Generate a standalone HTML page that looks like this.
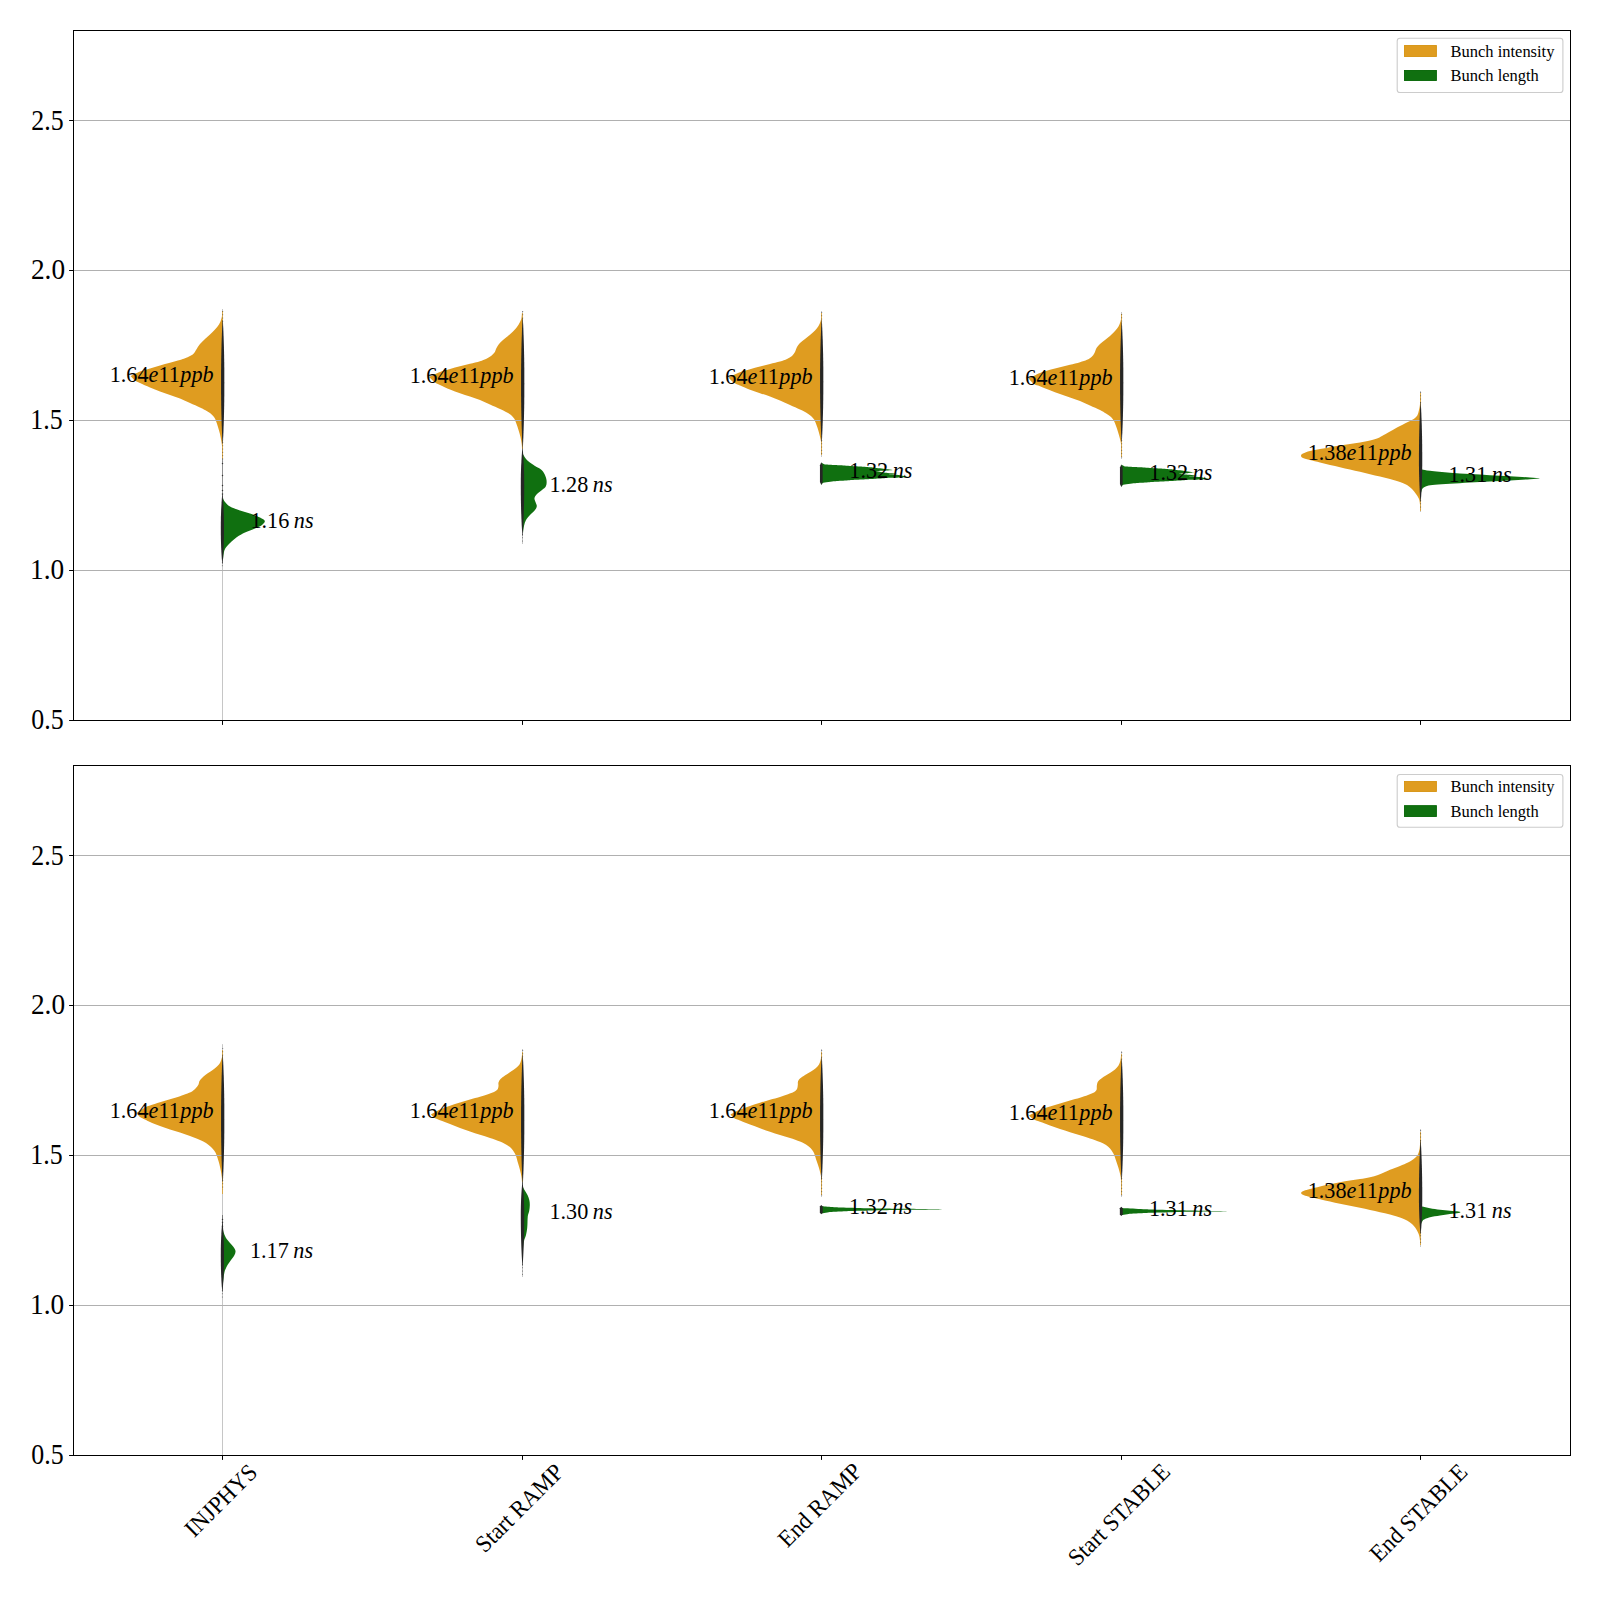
<!DOCTYPE html>
<html><head><meta charset="utf-8"><title>Bunch intensity and bunch length</title>
<style>html,body{margin:0;padding:0;background:#fff;}body{width:1600px;height:1600px;position:relative;overflow:hidden;font-family:"Liberation Serif",serif;}</style></head>
<body>
<svg width="1600" height="1600" viewBox="0 0 1600 1600" style="position:absolute;left:0;top:0;font-family:'Liberation Serif',serif">
<rect x="0" y="0" width="1600" height="1600" fill="#ffffff"/>
<path d="M222.60,310.00C222.53,310.83 222.47,313.33 222.20,315.00C221.93,316.67 221.53,318.42 221.00,320.00C220.47,321.58 220.00,322.92 219.00,324.50C218.00,326.08 216.50,327.83 215.00,329.50C213.50,331.17 211.67,332.92 210.00,334.50C208.33,336.08 206.67,337.42 205.00,339.00C203.33,340.58 201.50,342.17 200.00,344.00C198.50,345.83 197.08,348.37 196.00,350.00C194.92,351.63 194.50,352.80 193.50,353.80C192.50,354.80 191.42,355.25 190.00,356.00C188.58,356.75 186.67,357.63 185.00,358.30C183.33,358.97 182.50,359.25 180.00,360.00C177.50,360.75 173.33,361.88 170.00,362.80C166.67,363.72 163.33,364.55 160.00,365.50C156.67,366.45 153.33,367.50 150.00,368.50C146.67,369.50 143.25,370.25 140.00,371.50C136.75,372.75 132.08,375.25 130.50,376.00C131.25,376.75 133.42,379.33 135.00,380.50C136.58,381.67 137.50,381.83 140.00,383.00C142.50,384.17 146.67,386.08 150.00,387.50C153.33,388.92 156.67,390.25 160.00,391.50C163.33,392.75 166.67,393.83 170.00,395.00C173.33,396.17 176.67,397.17 180.00,398.50C183.33,399.83 186.67,401.50 190.00,403.00C193.33,404.50 197.50,406.33 200.00,407.50C202.50,408.67 203.33,409.08 205.00,410.00C206.67,410.92 208.50,411.83 210.00,413.00C211.50,414.17 213.00,415.67 214.00,417.00C215.00,418.33 215.33,419.33 216.00,421.00C216.67,422.67 217.33,424.83 218.00,427.00C218.67,429.17 219.42,431.50 220.00,434.00C220.58,436.50 221.10,439.33 221.50,442.00C221.90,444.67 222.22,447.00 222.40,450.00C222.58,453.00 222.57,458.33 222.60,460.00Z" fill="#df9c20"/>
<path d="M222.50,494.00C222.58,494.67 222.58,496.67 223.00,498.00C223.42,499.33 223.83,500.58 225.00,502.00C226.17,503.42 227.50,505.08 230.00,506.50C232.50,507.92 236.67,509.33 240.00,510.50C243.33,511.67 246.67,512.33 250.00,513.50C253.33,514.67 257.53,516.25 260.00,517.50C262.47,518.75 264.47,519.75 264.80,521.00C265.13,522.25 263.63,523.75 262.00,525.00C260.37,526.25 257.83,527.25 255.00,528.50C252.17,529.75 248.00,531.08 245.00,532.50C242.00,533.92 239.50,535.25 237.00,537.00C234.50,538.75 232.00,541.00 230.00,543.00C228.00,545.00 226.08,547.00 225.00,549.00C223.92,551.00 223.87,552.83 223.50,555.00C223.13,557.17 222.97,560.33 222.80,562.00C222.63,563.67 222.55,564.50 222.50,565.00Z" fill="#107010"/>
<path d="M522.10,311.00C522.00,312.17 521.85,316.17 521.50,318.00C521.15,319.83 520.75,320.50 520.00,322.00C519.25,323.50 518.17,325.42 517.00,327.00C515.83,328.58 514.50,330.00 513.00,331.50C511.50,333.00 509.67,334.58 508.00,336.00C506.33,337.42 504.50,338.67 503.00,340.00C501.50,341.33 500.08,342.67 499.00,344.00C497.92,345.33 497.25,346.58 496.50,348.00C495.75,349.42 495.42,351.17 494.50,352.50C493.58,353.83 492.42,354.92 491.00,356.00C489.58,357.08 487.83,358.13 486.00,359.00C484.17,359.87 482.67,360.40 480.00,361.20C477.33,362.00 473.33,362.97 470.00,363.80C466.67,364.63 463.33,365.33 460.00,366.20C456.67,367.07 453.33,368.03 450.00,369.00C446.67,369.97 443.50,370.67 440.00,372.00C436.50,373.33 430.83,376.17 429.00,377.00C430.00,377.92 433.17,381.17 435.00,382.50C436.83,383.83 437.50,383.83 440.00,385.00C442.50,386.17 446.67,388.13 450.00,389.50C453.33,390.87 456.67,392.03 460.00,393.20C463.33,394.37 466.67,395.37 470.00,396.50C473.33,397.63 476.67,398.67 480.00,400.00C483.33,401.33 486.67,403.00 490.00,404.50C493.33,406.00 497.33,407.75 500.00,409.00C502.67,410.25 504.17,411.00 506.00,412.00C507.83,413.00 509.58,413.83 511.00,415.00C512.42,416.17 513.58,417.50 514.50,419.00C515.42,420.50 515.83,422.17 516.50,424.00C517.17,425.83 517.83,427.83 518.50,430.00C519.17,432.17 519.97,434.67 520.50,437.00C521.03,439.33 521.43,441.83 521.70,444.00C521.97,446.17 522.03,449.00 522.10,450.00Z" fill="#df9c20"/>
<path d="M522.10,452.00C522.42,452.67 523.02,454.50 524.00,456.00C524.98,457.50 526.17,459.33 528.00,461.00C529.83,462.67 532.83,464.58 535.00,466.00C537.17,467.42 539.42,468.17 541.00,469.50C542.58,470.83 543.58,472.25 544.50,474.00C545.42,475.75 546.25,478.00 546.50,480.00C546.75,482.00 546.75,484.33 546.00,486.00C545.25,487.67 543.50,488.67 542.00,490.00C540.50,491.33 538.25,492.67 537.00,494.00C535.75,495.33 534.75,496.67 534.50,498.00C534.25,499.33 535.12,500.67 535.50,502.00C535.88,503.33 536.88,504.67 536.80,506.00C536.72,507.33 536.13,508.50 535.00,510.00C533.87,511.50 531.50,513.33 530.00,515.00C528.50,516.67 527.00,518.17 526.00,520.00C525.00,521.83 524.50,523.83 524.00,526.00C523.50,528.17 523.32,530.00 523.00,533.00C522.68,536.00 522.25,542.17 522.10,544.00Z" fill="#107010"/>
<path d="M821.60,312.00C821.57,312.83 821.58,315.42 821.40,317.00C821.22,318.58 820.98,320.00 820.50,321.50C820.02,323.00 819.42,324.50 818.50,326.00C817.58,327.50 816.42,329.00 815.00,330.50C813.58,332.00 811.67,333.58 810.00,335.00C808.33,336.42 806.67,337.67 805.00,339.00C803.33,340.33 801.33,341.67 800.00,343.00C798.67,344.33 797.83,345.50 797.00,347.00C796.17,348.50 795.83,350.50 795.00,352.00C794.17,353.50 793.33,354.83 792.00,356.00C790.67,357.17 789.00,358.08 787.00,359.00C785.00,359.92 782.83,360.67 780.00,361.50C777.17,362.33 773.33,363.17 770.00,364.00C766.67,364.83 763.33,365.63 760.00,366.50C756.67,367.37 753.33,368.25 750.00,369.20C746.67,370.15 743.58,370.82 740.00,372.20C736.42,373.58 730.42,376.62 728.50,377.50C729.42,378.38 732.08,381.47 734.00,382.80C735.92,384.13 737.33,384.33 740.00,385.50C742.67,386.67 746.67,388.52 750.00,389.80C753.33,391.08 756.67,392.08 760.00,393.20C763.33,394.32 766.67,395.28 770.00,396.50C773.33,397.72 776.67,399.08 780.00,400.50C783.33,401.92 786.67,403.50 790.00,405.00C793.33,406.50 797.33,408.25 800.00,409.50C802.67,410.75 804.17,411.42 806.00,412.50C807.83,413.58 809.58,414.75 811.00,416.00C812.42,417.25 813.58,418.50 814.50,420.00C815.42,421.50 815.83,423.17 816.50,425.00C817.17,426.83 817.87,428.83 818.50,431.00C819.13,433.17 819.83,435.83 820.30,438.00C820.77,440.17 821.08,441.00 821.30,444.00C821.52,447.00 821.55,454.00 821.60,456.00Z" fill="#df9c20"/>
<path d="M1121.10,313.00C1121.13,313.67 1121.40,315.58 1121.30,317.00C1121.20,318.42 1120.97,319.92 1120.50,321.50C1120.03,323.08 1119.42,324.92 1118.50,326.50C1117.58,328.08 1116.42,329.42 1115.00,331.00C1113.58,332.58 1111.67,334.50 1110.00,336.00C1108.33,337.50 1106.67,338.67 1105.00,340.00C1103.33,341.33 1101.42,342.67 1100.00,344.00C1098.58,345.33 1097.42,346.50 1096.50,348.00C1095.58,349.50 1095.33,351.50 1094.50,353.00C1093.67,354.50 1092.75,355.87 1091.50,357.00C1090.25,358.13 1088.92,358.93 1087.00,359.80C1085.08,360.67 1082.83,361.37 1080.00,362.20C1077.17,363.03 1073.33,363.97 1070.00,364.80C1066.67,365.63 1063.33,366.37 1060.00,367.20C1056.67,368.03 1053.33,368.83 1050.00,369.80C1046.67,370.77 1043.58,371.55 1040.00,373.00C1036.42,374.45 1030.42,377.58 1028.50,378.50C1029.42,379.42 1032.08,382.72 1034.00,384.00C1035.92,385.28 1037.33,385.17 1040.00,386.20C1042.67,387.23 1046.67,388.90 1050.00,390.20C1053.33,391.50 1056.67,392.78 1060.00,394.00C1063.33,395.22 1066.67,396.33 1070.00,397.50C1073.33,398.67 1076.67,399.67 1080.00,401.00C1083.33,402.33 1086.67,404.00 1090.00,405.50C1093.33,407.00 1097.33,408.67 1100.00,410.00C1102.67,411.33 1104.17,412.33 1106.00,413.50C1107.83,414.67 1109.67,415.75 1111.00,417.00C1112.33,418.25 1113.17,419.50 1114.00,421.00C1114.83,422.50 1115.33,424.17 1116.00,426.00C1116.67,427.83 1117.33,429.83 1118.00,432.00C1118.67,434.17 1119.48,436.83 1120.00,439.00C1120.52,441.17 1120.92,442.00 1121.10,445.00C1121.28,448.00 1121.10,455.00 1121.10,457.00Z" fill="#df9c20"/>
<path d="M821.30,462.70C821.30,462.70 825.00,464.50 825.00,464.50C825.00,464.50 840.00,465.30 840.00,465.30C840.00,465.30 860.00,466.60 860.00,466.60C860.00,466.60 875.00,467.70 875.00,467.70C875.00,467.70 885.00,468.90 885.00,468.90C885.00,468.90 894.20,470.00 894.20,470.00C894.20,470.00 885.00,470.70 885.00,470.70C885.00,470.70 875.50,470.90 875.50,470.90C875.50,470.90 886.00,472.70 886.00,472.70C886.00,472.70 898.00,473.90 898.00,473.90C898.00,473.90 886.00,474.20 886.00,474.20C886.00,474.20 893.75,474.50 893.75,474.50C893.75,474.50 900.00,475.20 900.00,475.20C900.00,475.20 908.70,476.90 908.70,476.90C908.70,476.90 900.00,477.40 900.00,477.40C900.00,477.40 890.00,477.80 890.00,477.80C890.00,477.80 871.25,479.06 871.25,479.06C871.25,479.06 852.50,480.00 852.50,480.00C852.50,480.00 833.75,481.25 833.75,481.25C833.75,481.25 823.10,482.80 823.10,482.80C823.10,482.80 821.30,485.00 821.30,485.00Z" fill="#107010"/>
<path d="M1121.30,464.80C1121.30,464.80 1125.00,466.50 1125.00,466.50C1125.00,466.50 1140.00,467.30 1140.00,467.30C1140.00,467.30 1160.00,468.60 1160.00,468.60C1160.00,468.60 1175.00,469.70 1175.00,469.70C1175.00,469.70 1185.00,470.90 1185.00,470.90C1185.00,470.90 1194.50,472.30 1194.50,472.30C1194.50,472.30 1188.00,473.20 1188.00,473.20C1188.00,473.20 1178.50,473.70 1178.50,473.70C1178.50,473.70 1186.00,474.60 1186.00,474.60C1186.00,474.60 1197.00,475.70 1197.00,475.70C1197.00,475.70 1186.00,476.10 1186.00,476.10C1186.00,476.10 1193.75,476.40 1193.75,476.40C1193.75,476.40 1200.00,477.10 1200.00,477.10C1200.00,477.10 1208.70,478.90 1208.70,478.90C1208.70,478.90 1200.00,479.40 1200.00,479.40C1200.00,479.40 1190.00,479.80 1190.00,479.80C1190.00,479.80 1171.25,481.06 1171.25,481.06C1171.25,481.06 1152.50,482.00 1152.50,482.00C1152.50,482.00 1133.75,483.25 1133.75,483.25C1133.75,483.25 1123.10,484.80 1123.10,484.80C1123.10,484.80 1121.30,487.00 1121.30,487.00Z" fill="#107010"/>
<path d="M1420.60,392.00C1420.50,394.00 1420.27,401.00 1420.00,404.00C1419.73,407.00 1419.42,408.17 1419.00,410.00C1418.58,411.83 1418.17,413.67 1417.50,415.00C1416.83,416.33 1416.25,417.00 1415.00,418.00C1413.75,419.00 1412.50,419.67 1410.00,421.00C1407.50,422.33 1403.33,424.25 1400.00,426.00C1396.67,427.75 1393.00,429.83 1390.00,431.50C1387.00,433.17 1384.17,434.83 1382.00,436.00C1379.83,437.17 1379.00,437.75 1377.00,438.50C1375.00,439.25 1372.83,439.83 1370.00,440.50C1367.17,441.17 1363.33,441.92 1360.00,442.50C1356.67,443.08 1353.33,443.50 1350.00,444.00C1346.67,444.50 1343.33,444.97 1340.00,445.50C1336.67,446.03 1333.33,446.62 1330.00,447.20C1326.67,447.78 1323.33,448.37 1320.00,449.00C1316.67,449.63 1312.83,450.25 1310.00,451.00C1307.17,451.75 1304.50,452.72 1303.00,453.50C1301.50,454.28 1301.00,454.95 1301.00,455.70C1301.00,456.45 1301.50,457.28 1303.00,458.00C1304.50,458.72 1307.17,459.25 1310.00,460.00C1312.83,460.75 1316.67,461.67 1320.00,462.50C1323.33,463.33 1326.67,464.22 1330.00,465.00C1333.33,465.78 1336.67,466.45 1340.00,467.20C1343.33,467.95 1346.67,468.73 1350.00,469.50C1353.33,470.27 1356.67,471.02 1360.00,471.80C1363.33,472.58 1366.67,473.42 1370.00,474.20C1373.33,474.98 1376.67,475.70 1380.00,476.50C1383.33,477.30 1386.67,478.08 1390.00,479.00C1393.33,479.92 1397.17,481.00 1400.00,482.00C1402.83,483.00 1405.00,483.83 1407.00,485.00C1409.00,486.17 1410.50,487.50 1412.00,489.00C1413.50,490.50 1414.92,492.50 1416.00,494.00C1417.08,495.50 1417.88,496.67 1418.50,498.00C1419.12,499.33 1419.35,499.67 1419.70,502.00C1420.05,504.33 1420.45,510.33 1420.60,512.00Z" fill="#df9c20"/>
<path d="M1420.60,469.00C1420.83,469.08 1420.43,469.20 1422.00,469.50C1423.57,469.80 1425.33,470.25 1430.00,470.80C1434.67,471.35 1443.33,472.27 1450.00,472.80C1456.67,473.33 1463.33,473.60 1470.00,474.00C1476.67,474.40 1483.33,474.83 1490.00,475.20C1496.67,475.57 1503.33,475.82 1510.00,476.20C1516.67,476.58 1525.00,477.13 1530.00,477.50C1535.00,477.87 1538.33,478.25 1540.00,478.40C1538.33,478.53 1535.00,478.85 1530.00,479.20C1525.00,479.55 1516.67,480.12 1510.00,480.50C1503.33,480.88 1496.67,481.17 1490.00,481.50C1483.33,481.83 1476.67,482.12 1470.00,482.50C1463.33,482.88 1455.83,483.42 1450.00,483.80C1444.17,484.18 1438.83,484.43 1435.00,484.80C1431.17,485.17 1429.00,485.47 1427.00,486.00C1425.00,486.53 1423.92,487.17 1423.00,488.00C1422.08,488.83 1421.90,489.83 1421.50,491.00C1421.10,492.17 1420.75,494.33 1420.60,495.00Z" fill="#107010"/>
<line x1="222.50" y1="309.00" x2="222.50" y2="720.40" stroke="#c6c6c6" stroke-width="1.00" stroke-opacity="1.00"/>
<line x1="522.50" y1="311.00" x2="522.50" y2="544.00" stroke="#c6c6c6" stroke-width="1.00" stroke-opacity="1.00"/>
<line x1="821.50" y1="311.00" x2="821.50" y2="457.00" stroke="#c6c6c6" stroke-width="1.00" stroke-opacity="1.00"/>
<line x1="1121.50" y1="312.00" x2="1121.50" y2="459.00" stroke="#c6c6c6" stroke-width="1.00" stroke-opacity="1.00"/>
<line x1="1420.50" y1="391.00" x2="1420.50" y2="512.00" stroke="#c6c6c6" stroke-width="1.00" stroke-opacity="1.00"/>
<line x1="222.50" y1="311.00" x2="222.50" y2="327.00" stroke="#d9a84a" stroke-width="1.00" stroke-opacity="1.00"/>
<line x1="222.50" y1="440.00" x2="222.50" y2="459.00" stroke="#d9a84a" stroke-width="1.00" stroke-opacity="1.00"/>
<line x1="522.50" y1="313.00" x2="522.50" y2="329.00" stroke="#d9a84a" stroke-width="1.00" stroke-opacity="1.00"/>
<line x1="522.50" y1="430.00" x2="522.50" y2="449.00" stroke="#d9a84a" stroke-width="1.00" stroke-opacity="1.00"/>
<line x1="821.50" y1="313.00" x2="821.50" y2="329.00" stroke="#d9a84a" stroke-width="1.00" stroke-opacity="1.00"/>
<line x1="821.50" y1="436.00" x2="821.50" y2="455.00" stroke="#d9a84a" stroke-width="1.00" stroke-opacity="1.00"/>
<line x1="1121.50" y1="314.00" x2="1121.50" y2="330.00" stroke="#d9a84a" stroke-width="1.00" stroke-opacity="1.00"/>
<line x1="1121.50" y1="438.00" x2="1121.50" y2="457.00" stroke="#d9a84a" stroke-width="1.00" stroke-opacity="1.00"/>
<line x1="1420.50" y1="393.00" x2="1420.50" y2="409.00" stroke="#d9a84a" stroke-width="1.00" stroke-opacity="1.00"/>
<line x1="1420.50" y1="492.00" x2="1420.50" y2="511.00" stroke="#d9a84a" stroke-width="1.00" stroke-opacity="1.00"/>
<line x1="222.50" y1="458.60" x2="222.50" y2="497.00" stroke="#8a8a8a" stroke-width="0.90" stroke-opacity="1.00"/>
<line x1="73.50" y1="570.50" x2="1570.50" y2="570.50" stroke="#b0b0b0" stroke-width="1"/>
<line x1="73.50" y1="420.50" x2="1570.50" y2="420.50" stroke="#b0b0b0" stroke-width="1"/>
<line x1="73.50" y1="270.50" x2="1570.50" y2="270.50" stroke="#b0b0b0" stroke-width="1"/>
<line x1="73.50" y1="120.50" x2="1570.50" y2="120.50" stroke="#b0b0b0" stroke-width="1"/>
<path d="M222.85,320.00 L223.11,325.17 L223.35,330.33 L223.55,335.50 L223.74,340.67 L223.89,345.83 L224.02,351.00 L224.13,356.17 L224.22,361.33 L224.28,366.50 L224.32,371.67 L224.34,376.83 L224.35,382.00 L224.34,387.17 L224.32,392.33 L224.28,397.50 L224.22,402.67 L224.13,407.83 L224.02,413.00 L223.89,418.17 L223.74,423.33 L223.55,428.50 L223.35,433.67 L223.11,438.83 L222.85,444.00 L222.55,444.00 L222.29,438.83 L222.05,433.67 L221.85,428.50 L221.66,423.33 L221.51,418.17 L221.38,413.00 L221.27,407.83 L221.18,402.67 L221.12,397.50 L221.08,392.33 L221.06,387.17 L221.05,382.00 L221.06,376.83 L221.08,371.67 L221.12,366.50 L221.18,361.33 L221.27,356.17 L221.38,351.00 L221.51,345.83 L221.66,340.67 L221.85,335.50 L222.05,330.33 L222.29,325.17 L222.55,320.00 Z" fill="#262626"/>
<line x1="222.70" y1="311.00" x2="222.70" y2="322.00" stroke="#262626" stroke-width="1" stroke-dasharray="0.9,2.4" stroke-opacity="0.55"/>
<line x1="222.70" y1="442.00" x2="222.70" y2="462.00" stroke="#262626" stroke-width="1" stroke-dasharray="0.9,2.4" stroke-opacity="0.55"/>
<path d="M222.55,494.00 L222.81,496.92 L223.04,499.83 L223.25,502.75 L223.42,505.67 L223.58,508.58 L223.70,511.50 L223.81,514.42 L223.89,517.33 L223.94,520.25 L223.98,523.17 L224.00,526.08 L224.00,529.00 L223.99,531.92 L223.96,534.83 L223.92,537.75 L223.85,540.67 L223.77,543.58 L223.66,546.50 L223.54,549.42 L223.39,552.33 L223.21,555.25 L223.02,558.17 L222.80,561.08 L222.55,564.00 L222.25,564.00 L222.00,561.08 L221.78,558.17 L221.59,555.25 L221.41,552.33 L221.26,549.42 L221.14,546.50 L221.03,543.58 L220.95,540.67 L220.88,537.75 L220.84,534.83 L220.81,531.92 L220.80,529.00 L220.80,526.08 L220.82,523.17 L220.86,520.25 L220.91,517.33 L220.99,514.42 L221.10,511.50 L221.22,508.58 L221.38,505.67 L221.55,502.75 L221.76,499.83 L221.99,496.92 L222.25,494.00 Z" fill="#262626"/>
<line x1="222.40" y1="562.00" x2="222.40" y2="568.00" stroke="#262626" stroke-width="1" stroke-dasharray="0.9,2.4" stroke-opacity="0.55"/>
<path d="M522.85,318.00 L523.11,323.42 L523.35,328.83 L523.55,334.25 L523.74,339.67 L523.89,345.08 L524.02,350.50 L524.13,355.92 L524.22,361.33 L524.28,366.75 L524.32,372.17 L524.34,377.58 L524.35,383.00 L524.34,388.42 L524.32,393.83 L524.28,399.25 L524.22,404.67 L524.13,410.08 L524.02,415.50 L523.89,420.92 L523.74,426.33 L523.55,431.75 L523.35,437.17 L523.11,442.58 L522.85,448.00 L522.55,448.00 L522.29,442.58 L522.05,437.17 L521.85,431.75 L521.66,426.33 L521.51,420.92 L521.38,415.50 L521.27,410.08 L521.18,404.67 L521.12,399.25 L521.08,393.83 L521.06,388.42 L521.05,383.00 L521.06,377.58 L521.08,372.17 L521.12,366.75 L521.18,361.33 L521.27,355.92 L521.38,350.50 L521.51,345.08 L521.66,339.67 L521.85,334.25 L522.05,328.83 L522.29,323.42 L522.55,318.00 Z" fill="#262626"/>
<line x1="522.70" y1="311.00" x2="522.70" y2="320.00" stroke="#262626" stroke-width="1" stroke-dasharray="0.9,2.4" stroke-opacity="0.55"/>
<path d="M522.65,448.00 L522.97,451.67 L523.25,455.33 L523.49,459.00 L523.69,462.67 L523.86,466.33 L523.99,470.00 L524.09,473.67 L524.15,477.33 L524.19,481.00 L524.20,484.67 L524.20,488.33 L524.18,492.00 L524.15,495.67 L524.11,499.33 L524.04,503.00 L523.96,506.67 L523.87,510.33 L523.75,514.00 L523.62,517.67 L523.46,521.33 L523.29,525.00 L523.10,528.67 L522.88,532.33 L522.65,536.00 L522.35,536.00 L522.12,532.33 L521.90,528.67 L521.71,525.00 L521.54,521.33 L521.38,517.67 L521.25,514.00 L521.13,510.33 L521.04,506.67 L520.96,503.00 L520.89,499.33 L520.85,495.67 L520.82,492.00 L520.80,488.33 L520.80,484.67 L520.81,481.00 L520.85,477.33 L520.91,473.67 L521.01,470.00 L521.14,466.33 L521.31,462.67 L521.51,459.00 L521.75,455.33 L522.03,451.67 L522.35,448.00 Z" fill="#262626"/>
<line x1="522.50" y1="534.00" x2="522.50" y2="543.00" stroke="#262626" stroke-width="1" stroke-dasharray="0.9,2.4" stroke-opacity="0.55"/>
<path d="M821.85,320.00 L822.11,325.08 L822.35,330.17 L822.55,335.25 L822.74,340.33 L822.89,345.42 L823.02,350.50 L823.13,355.58 L823.22,360.67 L823.28,365.75 L823.32,370.83 L823.34,375.92 L823.35,381.00 L823.34,386.08 L823.32,391.17 L823.28,396.25 L823.22,401.33 L823.13,406.42 L823.02,411.50 L822.89,416.58 L822.74,421.67 L822.55,426.75 L822.35,431.83 L822.11,436.92 L821.85,442.00 L821.55,442.00 L821.29,436.92 L821.05,431.83 L820.85,426.75 L820.66,421.67 L820.51,416.58 L820.38,411.50 L820.27,406.42 L820.18,401.33 L820.12,396.25 L820.08,391.17 L820.06,386.08 L820.05,381.00 L820.06,375.92 L820.08,370.83 L820.12,365.75 L820.18,360.67 L820.27,355.58 L820.38,350.50 L820.51,345.42 L820.66,340.33 L820.85,335.25 L821.05,330.17 L821.29,325.08 L821.55,320.00 Z" fill="#262626"/>
<line x1="821.70" y1="312.00" x2="821.70" y2="322.00" stroke="#262626" stroke-width="1" stroke-dasharray="0.9,2.4" stroke-opacity="0.55"/>
<line x1="821.70" y1="440.00" x2="821.70" y2="456.00" stroke="#262626" stroke-width="1" stroke-dasharray="0.9,2.4" stroke-opacity="0.55"/>
<path d="M821.30,462.30 L822.65,465.30 L822.65,482.00 L821.30,485.00 L819.95,482.00 L819.95,465.30 Z" fill="#262626"/>
<path d="M1121.85,322.00 L1122.11,327.00 L1122.35,332.00 L1122.55,337.00 L1122.74,342.00 L1122.89,347.00 L1123.02,352.00 L1123.13,357.00 L1123.22,362.00 L1123.28,367.00 L1123.32,372.00 L1123.34,377.00 L1123.35,382.00 L1123.34,387.00 L1123.32,392.00 L1123.28,397.00 L1123.22,402.00 L1123.13,407.00 L1123.02,412.00 L1122.89,417.00 L1122.74,422.00 L1122.55,427.00 L1122.35,432.00 L1122.11,437.00 L1121.85,442.00 L1121.55,442.00 L1121.29,437.00 L1121.05,432.00 L1120.85,427.00 L1120.66,422.00 L1120.51,417.00 L1120.38,412.00 L1120.27,407.00 L1120.18,402.00 L1120.12,397.00 L1120.08,392.00 L1120.06,387.00 L1120.05,382.00 L1120.06,377.00 L1120.08,372.00 L1120.12,367.00 L1120.18,362.00 L1120.27,357.00 L1120.38,352.00 L1120.51,347.00 L1120.66,342.00 L1120.85,337.00 L1121.05,332.00 L1121.29,327.00 L1121.55,322.00 Z" fill="#262626"/>
<line x1="1121.70" y1="314.00" x2="1121.70" y2="324.00" stroke="#262626" stroke-width="1" stroke-dasharray="0.9,2.4" stroke-opacity="0.55"/>
<line x1="1121.70" y1="440.00" x2="1121.70" y2="458.00" stroke="#262626" stroke-width="1" stroke-dasharray="0.9,2.4" stroke-opacity="0.55"/>
<path d="M1121.30,464.50 L1122.65,467.50 L1122.65,484.00 L1121.30,487.00 L1119.95,484.00 L1119.95,467.50 Z" fill="#262626"/>
<path d="M1420.75,402.00 L1420.98,406.17 L1421.18,410.33 L1421.37,414.50 L1421.54,418.67 L1421.69,422.83 L1421.82,427.00 L1421.93,431.17 L1422.02,435.33 L1422.10,439.50 L1422.16,443.67 L1422.20,447.83 L1422.23,452.00 L1422.25,456.17 L1422.25,460.33 L1422.24,464.50 L1422.20,468.67 L1422.14,472.83 L1422.04,477.00 L1421.92,481.17 L1421.76,485.33 L1421.56,489.50 L1421.33,493.67 L1421.06,497.83 L1420.75,502.00 L1420.45,502.00 L1420.14,497.83 L1419.87,493.67 L1419.64,489.50 L1419.44,485.33 L1419.28,481.17 L1419.16,477.00 L1419.06,472.83 L1419.00,468.67 L1418.96,464.50 L1418.95,460.33 L1418.95,456.17 L1418.97,452.00 L1419.00,447.83 L1419.04,443.67 L1419.10,439.50 L1419.18,435.33 L1419.27,431.17 L1419.38,427.00 L1419.51,422.83 L1419.66,418.67 L1419.83,414.50 L1420.02,410.33 L1420.22,406.17 L1420.45,402.00 Z" fill="#262626"/>
<line x1="1420.60" y1="392.00" x2="1420.60" y2="404.00" stroke="#262626" stroke-width="1" stroke-dasharray="0.9,2.4" stroke-opacity="0.55"/>
<line x1="1420.60" y1="500.00" x2="1420.60" y2="510.00" stroke="#262626" stroke-width="1" stroke-dasharray="0.9,2.4" stroke-opacity="0.55"/>
<circle cx="222.50" cy="463.50" r="0.75" fill="#262626" fill-opacity="0.85"/>
<circle cx="222.50" cy="475.40" r="0.75" fill="#262626" fill-opacity="0.85"/>
<circle cx="222.50" cy="485.40" r="0.75" fill="#262626" fill-opacity="0.85"/>
<circle cx="222.50" cy="490.50" r="0.75" fill="#262626" fill-opacity="0.85"/>
<circle cx="222.50" cy="494.00" r="0.75" fill="#262626" fill-opacity="0.85"/>
<rect x="73.50" y="30.50" width="1497.00" height="690.00" fill="none" stroke="#000" stroke-width="1"/>
<line x1="69.10" y1="720.50" x2="73.50" y2="720.50" stroke="#000" stroke-width="1"/>
<text transform="translate(63.60,729.00) scale(0.930,1.055)" font-size="27.8" text-anchor="end">0.5</text>
<line x1="69.10" y1="570.50" x2="73.50" y2="570.50" stroke="#000" stroke-width="1"/>
<text transform="translate(64.20,579.00) scale(0.983,1.055)" font-size="27.8" text-anchor="end">1.0</text>
<line x1="69.10" y1="420.50" x2="73.50" y2="420.50" stroke="#000" stroke-width="1"/>
<text transform="translate(62.65,429.00) scale(0.930,1.055)" font-size="27.8" text-anchor="end">1.5</text>
<line x1="69.10" y1="270.50" x2="73.50" y2="270.50" stroke="#000" stroke-width="1"/>
<text transform="translate(65.10,279.00) scale(0.983,1.055)" font-size="27.8" text-anchor="end">2.0</text>
<line x1="69.10" y1="120.50" x2="73.50" y2="120.50" stroke="#000" stroke-width="1"/>
<text transform="translate(63.60,129.90) scale(0.930,1.055)" font-size="27.8" text-anchor="end">2.5</text>
<line x1="222.50" y1="720.50" x2="222.50" y2="724.90" stroke="#000" stroke-width="1"/>
<line x1="522.50" y1="720.50" x2="522.50" y2="724.90" stroke="#000" stroke-width="1"/>
<line x1="821.50" y1="720.50" x2="821.50" y2="724.90" stroke="#000" stroke-width="1"/>
<line x1="1121.50" y1="720.50" x2="1121.50" y2="724.90" stroke="#000" stroke-width="1"/>
<line x1="1420.50" y1="720.50" x2="1420.50" y2="724.90" stroke="#000" stroke-width="1"/>
<rect x="1397.20" y="38.20" width="165.7" height="54.30" rx="2.8" ry="2.8" fill="#ffffff" fill-opacity="0.8" stroke="#cccccc" stroke-width="1.1"/>
<rect x="1404.50" y="45.55" width="31.9" height="10.90" fill="#df9c20" stroke="#d6920f" stroke-width="0.9"/>
<rect x="1404.50" y="70.45" width="31.9" height="10.00" fill="#107010" stroke="#036403" stroke-width="0.9"/>
<text transform="translate(1450.50,57.00) scale(0.99,1.06)" font-size="16.67">Bunch intensity</text>
<text transform="translate(1450.50,81.00) scale(0.99,1.06)" font-size="16.67">Bunch length</text>
<text transform="translate(109.70,381.80) scale(1,1.02)" font-size="22.2">1.64<tspan font-style="italic">e</tspan><tspan>11</tspan><tspan font-style="italic" dx="0.6">ppb</tspan></text>
<text transform="translate(409.70,382.80) scale(1,1.02)" font-size="22.2">1.64<tspan font-style="italic">e</tspan><tspan>11</tspan><tspan font-style="italic" dx="0.6">ppb</tspan></text>
<text transform="translate(708.70,383.80) scale(1,1.02)" font-size="22.2">1.64<tspan font-style="italic">e</tspan><tspan>11</tspan><tspan font-style="italic" dx="0.6">ppb</tspan></text>
<text transform="translate(1008.70,385.00) scale(1,1.02)" font-size="22.2">1.64<tspan font-style="italic">e</tspan><tspan>11</tspan><tspan font-style="italic" dx="0.6">ppb</tspan></text>
<text transform="translate(1307.70,460.00) scale(1,1.02)" font-size="22.2">1.38<tspan font-style="italic">e</tspan><tspan>11</tspan><tspan font-style="italic" dx="0.6">ppb</tspan></text>
<text transform="translate(250.40,527.50) scale(1,1.02)" font-size="22.2">1.16<tspan font-style="italic" dx="4.6">ns</tspan></text>
<text transform="translate(549.40,491.50) scale(1,1.02)" font-size="22.2">1.28<tspan font-style="italic" dx="4.6">ns</tspan></text>
<text transform="translate(849.30,477.50) scale(1,1.02)" font-size="22.2">1.32<tspan font-style="italic" dx="4.6">ns</tspan></text>
<text transform="translate(1149.30,479.70) scale(1,1.02)" font-size="22.2">1.32<tspan font-style="italic" dx="4.6">ns</tspan></text>
<text transform="translate(1448.40,481.50) scale(1,1.02)" font-size="22.2">1.31<tspan font-style="italic" dx="4.6">ns</tspan></text>
<path d="M222.60,1048.00C222.57,1049.17 222.58,1053.17 222.40,1055.00C222.22,1056.83 221.90,1057.67 221.50,1059.00C221.10,1060.33 220.75,1061.75 220.00,1063.00C219.25,1064.25 218.33,1065.25 217.00,1066.50C215.67,1067.75 213.83,1069.17 212.00,1070.50C210.17,1071.83 207.67,1073.25 206.00,1074.50C204.33,1075.75 203.08,1076.92 202.00,1078.00C200.92,1079.08 200.08,1079.92 199.50,1081.00C198.92,1082.08 199.08,1083.33 198.50,1084.50C197.92,1085.67 197.08,1086.83 196.00,1088.00C194.92,1089.17 193.67,1090.50 192.00,1091.50C190.33,1092.50 188.00,1093.22 186.00,1094.00C184.00,1094.78 182.67,1095.33 180.00,1096.20C177.33,1097.07 173.33,1098.20 170.00,1099.20C166.67,1100.20 163.33,1101.15 160.00,1102.20C156.67,1103.25 152.50,1104.62 150.00,1105.50C147.50,1106.38 147.25,1106.25 145.00,1107.50C142.75,1108.75 137.92,1112.08 136.50,1113.00C137.08,1113.67 138.58,1115.92 140.00,1117.00C141.42,1118.08 143.33,1118.67 145.00,1119.50C146.67,1120.33 147.50,1120.92 150.00,1122.00C152.50,1123.08 156.67,1124.75 160.00,1126.00C163.33,1127.25 166.67,1128.42 170.00,1129.50C173.33,1130.58 176.67,1131.42 180.00,1132.50C183.33,1133.58 186.67,1134.75 190.00,1136.00C193.33,1137.25 197.33,1138.83 200.00,1140.00C202.67,1141.17 204.17,1141.83 206.00,1143.00C207.83,1144.17 209.58,1145.67 211.00,1147.00C212.42,1148.33 213.58,1149.67 214.50,1151.00C215.42,1152.33 215.83,1153.33 216.50,1155.00C217.17,1156.67 217.83,1158.67 218.50,1161.00C219.17,1163.33 219.95,1166.33 220.50,1169.00C221.05,1171.67 221.47,1174.33 221.80,1177.00C222.13,1179.67 222.37,1182.00 222.50,1185.00C222.63,1188.00 222.58,1193.33 222.60,1195.00Z" fill="#df9c20"/>
<path d="M222.60,1226.00C222.75,1227.00 222.93,1230.00 223.50,1232.00C224.07,1234.00 224.92,1236.17 226.00,1238.00C227.08,1239.83 228.75,1241.50 230.00,1243.00C231.25,1244.50 232.58,1245.67 233.50,1247.00C234.42,1248.33 235.33,1249.67 235.50,1251.00C235.67,1252.33 235.25,1253.50 234.50,1255.00C233.75,1256.50 232.25,1258.17 231.00,1260.00C229.75,1261.83 228.08,1264.00 227.00,1266.00C225.92,1268.00 225.12,1269.67 224.50,1272.00C223.88,1274.33 223.62,1277.00 223.30,1280.00C222.98,1283.00 222.72,1288.33 222.60,1290.00Z" fill="#107010"/>
<path d="M522.10,1050.00C522.08,1050.83 522.15,1053.33 522.00,1055.00C521.85,1056.67 521.62,1058.42 521.20,1060.00C520.78,1061.58 520.37,1063.17 519.50,1064.50C518.63,1065.83 517.42,1066.83 516.00,1068.00C514.58,1069.17 512.83,1070.25 511.00,1071.50C509.17,1072.75 506.75,1074.25 505.00,1075.50C503.25,1076.75 501.58,1077.83 500.50,1079.00C499.42,1080.17 498.83,1081.33 498.50,1082.50C498.17,1083.67 498.67,1084.83 498.50,1086.00C498.33,1087.17 498.25,1088.50 497.50,1089.50C496.75,1090.50 495.58,1091.22 494.00,1092.00C492.42,1092.78 490.33,1093.40 488.00,1094.20C485.67,1095.00 483.00,1095.92 480.00,1096.80C477.00,1097.68 473.33,1098.55 470.00,1099.50C466.67,1100.45 463.33,1101.45 460.00,1102.50C456.67,1103.55 453.33,1104.63 450.00,1105.80C446.67,1106.97 443.17,1108.05 440.00,1109.50C436.83,1110.95 432.50,1113.67 431.00,1114.50C431.50,1115.00 432.50,1116.55 434.00,1117.50C435.50,1118.45 437.33,1119.12 440.00,1120.20C442.67,1121.28 446.67,1122.70 450.00,1124.00C453.33,1125.30 456.67,1126.75 460.00,1128.00C463.33,1129.25 466.67,1130.37 470.00,1131.50C473.33,1132.63 476.67,1133.72 480.00,1134.80C483.33,1135.88 486.67,1136.88 490.00,1138.00C493.33,1139.12 497.33,1140.42 500.00,1141.50C502.67,1142.58 504.17,1143.42 506.00,1144.50C507.83,1145.58 509.67,1146.75 511.00,1148.00C512.33,1149.25 513.17,1150.67 514.00,1152.00C514.83,1153.33 515.33,1154.17 516.00,1156.00C516.67,1157.83 517.33,1160.67 518.00,1163.00C518.67,1165.33 519.42,1167.67 520.00,1170.00C520.58,1172.33 521.15,1174.83 521.50,1177.00C521.85,1179.17 522.00,1182.00 522.10,1183.00Z" fill="#df9c20"/>
<path d="M522.10,1185.00C522.50,1185.83 523.60,1188.33 524.50,1190.00C525.40,1191.67 526.70,1193.33 527.50,1195.00C528.30,1196.67 528.92,1198.33 529.30,1200.00C529.68,1201.67 529.82,1203.17 529.80,1205.00C529.78,1206.83 529.53,1209.17 529.20,1211.00C528.87,1212.83 528.08,1214.17 527.80,1216.00C527.52,1217.83 527.60,1220.00 527.50,1222.00C527.40,1224.00 527.45,1225.83 527.20,1228.00C526.95,1230.17 526.53,1232.83 526.00,1235.00C525.47,1237.17 524.50,1238.50 524.00,1241.00C523.50,1243.50 523.32,1244.00 523.00,1250.00C522.68,1256.00 522.25,1272.50 522.10,1277.00Z" fill="#107010"/>
<path d="M821.60,1050.00C821.55,1051.00 821.48,1054.25 821.30,1056.00C821.12,1057.75 820.88,1059.08 820.50,1060.50C820.12,1061.92 819.75,1063.25 819.00,1064.50C818.25,1065.75 817.33,1066.83 816.00,1068.00C814.67,1069.17 812.83,1070.33 811.00,1071.50C809.17,1072.67 806.83,1073.83 805.00,1075.00C803.17,1076.17 801.17,1077.42 800.00,1078.50C798.83,1079.58 798.37,1080.42 798.00,1081.50C797.63,1082.58 797.97,1083.75 797.80,1085.00C797.63,1086.25 797.63,1087.87 797.00,1089.00C796.37,1090.13 795.50,1090.92 794.00,1091.80C792.50,1092.68 790.33,1093.43 788.00,1094.30C785.67,1095.17 783.00,1096.08 780.00,1097.00C777.00,1097.92 773.33,1098.83 770.00,1099.80C766.67,1100.77 763.33,1101.77 760.00,1102.80C756.67,1103.83 753.33,1104.88 750.00,1106.00C746.67,1107.12 743.25,1108.08 740.00,1109.50C736.75,1110.92 732.08,1113.67 730.50,1114.50C731.08,1115.08 732.42,1117.00 734.00,1118.00C735.58,1119.00 737.33,1119.42 740.00,1120.50C742.67,1121.58 746.67,1123.22 750.00,1124.50C753.33,1125.78 756.67,1126.98 760.00,1128.20C763.33,1129.42 766.67,1130.67 770.00,1131.80C773.33,1132.93 776.67,1133.97 780.00,1135.00C783.33,1136.03 786.67,1136.92 790.00,1138.00C793.33,1139.08 797.33,1140.42 800.00,1141.50C802.67,1142.58 804.25,1143.42 806.00,1144.50C807.75,1145.58 809.25,1146.75 810.50,1148.00C811.75,1149.25 812.75,1150.67 813.50,1152.00C814.25,1153.33 814.42,1154.33 815.00,1156.00C815.58,1157.67 816.33,1160.00 817.00,1162.00C817.67,1164.00 818.42,1166.00 819.00,1168.00C819.58,1170.00 820.10,1172.00 820.50,1174.00C820.90,1176.00 821.22,1176.50 821.40,1180.00C821.58,1183.50 821.57,1192.50 821.60,1195.00Z" fill="#df9c20"/>
<path d="M1121.10,1052.00C1121.08,1052.67 1121.13,1054.50 1121.00,1056.00C1120.87,1057.50 1120.72,1059.42 1120.30,1061.00C1119.88,1062.58 1119.38,1064.08 1118.50,1065.50C1117.62,1066.92 1116.42,1068.25 1115.00,1069.50C1113.58,1070.75 1111.67,1071.92 1110.00,1073.00C1108.33,1074.08 1106.67,1074.92 1105.00,1076.00C1103.33,1077.08 1101.25,1078.42 1100.00,1079.50C1098.75,1080.58 1098.03,1081.42 1097.50,1082.50C1096.97,1083.58 1096.97,1084.75 1096.80,1086.00C1096.63,1087.25 1097.05,1088.87 1096.50,1090.00C1095.95,1091.13 1094.92,1091.97 1093.50,1092.80C1092.08,1093.63 1090.25,1094.17 1088.00,1095.00C1085.75,1095.83 1083.00,1096.88 1080.00,1097.80C1077.00,1098.72 1073.33,1099.55 1070.00,1100.50C1066.67,1101.45 1063.33,1102.50 1060.00,1103.50C1056.67,1104.50 1053.33,1105.42 1050.00,1106.50C1046.67,1107.58 1043.50,1108.50 1040.00,1110.00C1036.50,1111.50 1030.83,1114.58 1029.00,1115.50C1029.67,1116.08 1031.17,1117.95 1033.00,1119.00C1034.83,1120.05 1037.17,1120.72 1040.00,1121.80C1042.83,1122.88 1046.67,1124.30 1050.00,1125.50C1053.33,1126.70 1056.67,1127.88 1060.00,1129.00C1063.33,1130.12 1066.67,1131.15 1070.00,1132.20C1073.33,1133.25 1076.67,1134.25 1080.00,1135.30C1083.33,1136.35 1086.67,1137.38 1090.00,1138.50C1093.33,1139.62 1097.33,1140.92 1100.00,1142.00C1102.67,1143.08 1104.33,1143.92 1106.00,1145.00C1107.67,1146.08 1108.92,1147.33 1110.00,1148.50C1111.08,1149.67 1111.75,1150.75 1112.50,1152.00C1113.25,1153.25 1113.83,1154.33 1114.50,1156.00C1115.17,1157.67 1115.83,1160.00 1116.50,1162.00C1117.17,1164.00 1117.87,1165.83 1118.50,1168.00C1119.13,1170.17 1119.88,1173.00 1120.30,1175.00C1120.72,1177.00 1120.87,1176.67 1121.00,1180.00C1121.13,1183.33 1121.08,1192.50 1121.10,1195.00Z" fill="#df9c20"/>
<path d="M821.60,1206.20C821.60,1206.20 840.00,1207.50 840.00,1207.50C840.00,1207.50 880.00,1208.60 880.00,1208.60C880.00,1208.60 941.50,1209.25 941.50,1209.25C941.50,1209.25 941.50,1209.40 941.50,1209.40C941.50,1209.40 910.00,1209.70 910.00,1209.70C910.00,1209.70 880.00,1210.20 880.00,1210.20C880.00,1210.20 850.00,1211.00 850.00,1211.00C850.00,1211.00 830.00,1212.00 830.00,1212.00C830.00,1212.00 821.60,1213.60 821.60,1213.60Z" fill="#107010"/>
<path d="M1121.10,1208.00C1121.10,1208.00 1150.00,1209.50 1150.00,1209.50C1150.00,1209.50 1190.00,1210.50 1190.00,1210.50C1190.00,1210.50 1226.50,1211.20 1226.50,1211.20C1226.50,1211.20 1226.50,1211.40 1226.50,1211.40C1226.50,1211.40 1210.00,1211.60 1210.00,1211.60C1210.00,1211.60 1180.00,1212.00 1180.00,1212.00C1180.00,1212.00 1150.00,1212.80 1150.00,1212.80C1150.00,1212.80 1130.00,1213.80 1130.00,1213.80C1130.00,1213.80 1121.10,1215.20 1121.10,1215.20Z" fill="#107010"/>
<path d="M1420.60,1130.00C1420.55,1131.67 1420.45,1137.00 1420.30,1140.00C1420.15,1143.00 1420.00,1145.83 1419.70,1148.00C1419.40,1150.17 1419.03,1151.58 1418.50,1153.00C1417.97,1154.42 1417.42,1155.42 1416.50,1156.50C1415.58,1157.58 1414.42,1158.50 1413.00,1159.50C1411.58,1160.50 1410.17,1161.42 1408.00,1162.50C1405.83,1163.58 1403.00,1164.78 1400.00,1166.00C1397.00,1167.22 1392.50,1168.80 1390.00,1169.80C1387.50,1170.80 1387.00,1171.13 1385.00,1172.00C1383.00,1172.87 1380.50,1174.13 1378.00,1175.00C1375.50,1175.87 1373.00,1176.53 1370.00,1177.20C1367.00,1177.87 1363.33,1178.45 1360.00,1179.00C1356.67,1179.55 1353.33,1179.97 1350.00,1180.50C1346.67,1181.03 1343.33,1181.58 1340.00,1182.20C1336.67,1182.82 1333.33,1183.48 1330.00,1184.20C1326.67,1184.92 1323.33,1185.70 1320.00,1186.50C1316.67,1187.30 1312.67,1188.28 1310.00,1189.00C1307.33,1189.72 1305.50,1190.13 1304.00,1190.80C1302.50,1191.47 1301.00,1192.25 1301.00,1193.00C1301.00,1193.75 1302.50,1194.63 1304.00,1195.30C1305.50,1195.97 1307.33,1196.35 1310.00,1197.00C1312.67,1197.65 1316.67,1198.45 1320.00,1199.20C1323.33,1199.95 1326.67,1200.73 1330.00,1201.50C1333.33,1202.27 1336.67,1203.08 1340.00,1203.80C1343.33,1204.52 1346.67,1205.13 1350.00,1205.80C1353.33,1206.47 1356.67,1207.10 1360.00,1207.80C1363.33,1208.50 1366.67,1209.27 1370.00,1210.00C1373.33,1210.73 1376.67,1211.45 1380.00,1212.20C1383.33,1212.95 1386.67,1213.62 1390.00,1214.50C1393.33,1215.38 1397.17,1216.50 1400.00,1217.50C1402.83,1218.50 1405.00,1219.42 1407.00,1220.50C1409.00,1221.58 1410.58,1222.75 1412.00,1224.00C1413.42,1225.25 1414.50,1226.58 1415.50,1228.00C1416.50,1229.42 1417.33,1231.00 1418.00,1232.50C1418.67,1234.00 1419.07,1234.75 1419.50,1237.00C1419.93,1239.25 1420.42,1244.50 1420.60,1246.00Z" fill="#df9c20"/>
<path d="M1420.60,1206.20C1420.83,1206.25 1420.43,1206.17 1422.00,1206.50C1423.57,1206.83 1427.00,1207.67 1430.00,1208.20C1433.00,1208.73 1436.67,1209.27 1440.00,1209.70C1443.33,1210.13 1446.92,1210.48 1450.00,1210.80C1453.08,1211.12 1456.78,1211.35 1458.50,1211.60C1460.22,1211.85 1460.30,1212.05 1460.30,1212.30C1460.30,1212.55 1460.22,1212.80 1458.50,1213.10C1456.78,1213.40 1453.08,1213.68 1450.00,1214.10C1446.92,1214.52 1443.33,1215.08 1440.00,1215.60C1436.67,1216.12 1432.50,1216.63 1430.00,1217.20C1427.50,1217.77 1426.25,1218.37 1425.00,1219.00C1423.75,1219.63 1423.23,1220.00 1422.50,1221.00C1421.77,1222.00 1420.92,1224.33 1420.60,1225.00Z" fill="#107010"/>
<line x1="222.50" y1="1044.20" x2="222.50" y2="1455.60" stroke="#c6c6c6" stroke-width="1.00" stroke-opacity="1.00"/>
<line x1="522.50" y1="1049.00" x2="522.50" y2="1277.00" stroke="#c6c6c6" stroke-width="1.00" stroke-opacity="1.00"/>
<line x1="821.50" y1="1049.00" x2="821.50" y2="1197.00" stroke="#c6c6c6" stroke-width="1.00" stroke-opacity="1.00"/>
<line x1="1121.50" y1="1051.00" x2="1121.50" y2="1197.00" stroke="#c6c6c6" stroke-width="1.00" stroke-opacity="1.00"/>
<line x1="1420.50" y1="1129.00" x2="1420.50" y2="1247.00" stroke="#c6c6c6" stroke-width="1.00" stroke-opacity="1.00"/>
<line x1="222.50" y1="1050.00" x2="222.50" y2="1066.00" stroke="#d9a84a" stroke-width="1.00" stroke-opacity="1.00"/>
<line x1="222.50" y1="1175.00" x2="222.50" y2="1194.00" stroke="#d9a84a" stroke-width="1.00" stroke-opacity="1.00"/>
<line x1="522.50" y1="1052.00" x2="522.50" y2="1068.00" stroke="#d9a84a" stroke-width="1.00" stroke-opacity="1.00"/>
<line x1="522.50" y1="1163.00" x2="522.50" y2="1182.00" stroke="#d9a84a" stroke-width="1.00" stroke-opacity="1.00"/>
<line x1="821.50" y1="1052.00" x2="821.50" y2="1068.00" stroke="#d9a84a" stroke-width="1.00" stroke-opacity="1.00"/>
<line x1="821.50" y1="1176.00" x2="821.50" y2="1195.00" stroke="#d9a84a" stroke-width="1.00" stroke-opacity="1.00"/>
<line x1="1121.50" y1="1054.00" x2="1121.50" y2="1070.00" stroke="#d9a84a" stroke-width="1.00" stroke-opacity="1.00"/>
<line x1="1121.50" y1="1176.00" x2="1121.50" y2="1195.00" stroke="#d9a84a" stroke-width="1.00" stroke-opacity="1.00"/>
<line x1="1420.50" y1="1132.00" x2="1420.50" y2="1148.00" stroke="#d9a84a" stroke-width="1.00" stroke-opacity="1.00"/>
<line x1="1420.50" y1="1226.00" x2="1420.50" y2="1245.00" stroke="#d9a84a" stroke-width="1.00" stroke-opacity="1.00"/>
<line x1="222.50" y1="1215.00" x2="222.50" y2="1227.00" stroke="#707070" stroke-width="0.90" stroke-opacity="1.00"/>
<line x1="73.50" y1="1305.50" x2="1570.50" y2="1305.50" stroke="#b0b0b0" stroke-width="1"/>
<line x1="73.50" y1="1155.50" x2="1570.50" y2="1155.50" stroke="#b0b0b0" stroke-width="1"/>
<line x1="73.50" y1="1005.50" x2="1570.50" y2="1005.50" stroke="#b0b0b0" stroke-width="1"/>
<line x1="73.50" y1="855.50" x2="1570.50" y2="855.50" stroke="#b0b0b0" stroke-width="1"/>
<path d="M222.85,1055.00 L223.11,1060.29 L223.35,1065.58 L223.55,1070.88 L223.74,1076.17 L223.89,1081.46 L224.02,1086.75 L224.13,1092.04 L224.22,1097.33 L224.28,1102.62 L224.32,1107.92 L224.34,1113.21 L224.35,1118.50 L224.34,1123.79 L224.32,1129.08 L224.28,1134.38 L224.22,1139.67 L224.13,1144.96 L224.02,1150.25 L223.89,1155.54 L223.74,1160.83 L223.55,1166.12 L223.35,1171.42 L223.11,1176.71 L222.85,1182.00 L222.55,1182.00 L222.29,1176.71 L222.05,1171.42 L221.85,1166.12 L221.66,1160.83 L221.51,1155.54 L221.38,1150.25 L221.27,1144.96 L221.18,1139.67 L221.12,1134.38 L221.08,1129.08 L221.06,1123.79 L221.05,1118.50 L221.06,1113.21 L221.08,1107.92 L221.12,1102.62 L221.18,1097.33 L221.27,1092.04 L221.38,1086.75 L221.51,1081.46 L221.66,1076.17 L221.85,1070.88 L222.05,1065.58 L222.29,1060.29 L222.55,1055.00 Z" fill="#262626"/>
<line x1="222.70" y1="1048.00" x2="222.70" y2="1057.00" stroke="#262626" stroke-width="1" stroke-dasharray="0.9,2.4" stroke-opacity="0.55"/>
<line x1="222.70" y1="1180.00" x2="222.70" y2="1190.00" stroke="#262626" stroke-width="1" stroke-dasharray="0.9,2.4" stroke-opacity="0.55"/>
<path d="M222.55,1222.00 L222.82,1224.92 L223.05,1227.83 L223.26,1230.75 L223.44,1233.67 L223.60,1236.58 L223.72,1239.50 L223.83,1242.42 L223.90,1245.33 L223.96,1248.25 L223.99,1251.17 L224.00,1254.08 L224.00,1257.00 L223.98,1259.92 L223.95,1262.83 L223.90,1265.75 L223.84,1268.67 L223.75,1271.58 L223.65,1274.50 L223.52,1277.42 L223.37,1280.33 L223.20,1283.25 L223.01,1286.17 L222.79,1289.08 L222.55,1292.00 L222.25,1292.00 L222.01,1289.08 L221.79,1286.17 L221.60,1283.25 L221.43,1280.33 L221.28,1277.42 L221.15,1274.50 L221.05,1271.58 L220.96,1268.67 L220.90,1265.75 L220.85,1262.83 L220.82,1259.92 L220.80,1257.00 L220.80,1254.08 L220.81,1251.17 L220.84,1248.25 L220.90,1245.33 L220.97,1242.42 L221.08,1239.50 L221.20,1236.58 L221.36,1233.67 L221.54,1230.75 L221.75,1227.83 L221.98,1224.92 L222.25,1222.00 Z" fill="#262626"/>
<line x1="222.40" y1="1290.00" x2="222.40" y2="1298.00" stroke="#262626" stroke-width="1" stroke-dasharray="0.9,2.4" stroke-opacity="0.55"/>
<path d="M522.85,1055.00 L523.11,1060.38 L523.35,1065.75 L523.55,1071.12 L523.74,1076.50 L523.89,1081.88 L524.02,1087.25 L524.13,1092.62 L524.22,1098.00 L524.28,1103.38 L524.32,1108.75 L524.34,1114.12 L524.35,1119.50 L524.34,1124.88 L524.32,1130.25 L524.28,1135.62 L524.22,1141.00 L524.13,1146.38 L524.02,1151.75 L523.89,1157.12 L523.74,1162.50 L523.55,1167.88 L523.35,1173.25 L523.11,1178.62 L522.85,1184.00 L522.55,1184.00 L522.29,1178.62 L522.05,1173.25 L521.85,1167.88 L521.66,1162.50 L521.51,1157.12 L521.38,1151.75 L521.27,1146.38 L521.18,1141.00 L521.12,1135.62 L521.08,1130.25 L521.06,1124.88 L521.05,1119.50 L521.06,1114.12 L521.08,1108.75 L521.12,1103.38 L521.18,1098.00 L521.27,1092.62 L521.38,1087.25 L521.51,1081.88 L521.66,1076.50 L521.85,1071.12 L522.05,1065.75 L522.29,1060.38 L522.55,1055.00 Z" fill="#262626"/>
<line x1="522.70" y1="1050.00" x2="522.70" y2="1057.00" stroke="#262626" stroke-width="1" stroke-dasharray="0.9,2.4" stroke-opacity="0.55"/>
<path d="M522.65,1182.00 L522.99,1185.50 L523.28,1189.00 L523.53,1192.50 L523.74,1196.00 L523.91,1199.50 L524.03,1203.00 L524.12,1206.50 L524.18,1210.00 L524.20,1213.50 L524.20,1217.00 L524.19,1220.50 L524.17,1224.00 L524.13,1227.50 L524.08,1231.00 L524.01,1234.50 L523.93,1238.00 L523.83,1241.50 L523.72,1245.00 L523.59,1248.50 L523.43,1252.00 L523.27,1255.50 L523.08,1259.00 L522.87,1262.50 L522.65,1266.00 L522.35,1266.00 L522.13,1262.50 L521.92,1259.00 L521.73,1255.50 L521.57,1252.00 L521.41,1248.50 L521.28,1245.00 L521.17,1241.50 L521.07,1238.00 L520.99,1234.50 L520.92,1231.00 L520.87,1227.50 L520.83,1224.00 L520.81,1220.50 L520.80,1217.00 L520.80,1213.50 L520.82,1210.00 L520.88,1206.50 L520.97,1203.00 L521.09,1199.50 L521.26,1196.00 L521.47,1192.50 L521.72,1189.00 L522.01,1185.50 L522.35,1182.00 Z" fill="#262626"/>
<line x1="522.50" y1="1264.00" x2="522.50" y2="1276.00" stroke="#262626" stroke-width="1" stroke-dasharray="0.9,2.4" stroke-opacity="0.55"/>
<path d="M821.85,1057.00 L822.11,1062.12 L822.35,1067.25 L822.55,1072.38 L822.74,1077.50 L822.89,1082.62 L823.02,1087.75 L823.13,1092.88 L823.22,1098.00 L823.28,1103.12 L823.32,1108.25 L823.34,1113.38 L823.35,1118.50 L823.34,1123.62 L823.32,1128.75 L823.28,1133.88 L823.22,1139.00 L823.13,1144.12 L823.02,1149.25 L822.89,1154.38 L822.74,1159.50 L822.55,1164.62 L822.35,1169.75 L822.11,1174.88 L821.85,1180.00 L821.55,1180.00 L821.29,1174.88 L821.05,1169.75 L820.85,1164.62 L820.66,1159.50 L820.51,1154.38 L820.38,1149.25 L820.27,1144.12 L820.18,1139.00 L820.12,1133.88 L820.08,1128.75 L820.06,1123.62 L820.05,1118.50 L820.06,1113.38 L820.08,1108.25 L820.12,1103.12 L820.18,1098.00 L820.27,1092.88 L820.38,1087.75 L820.51,1082.62 L820.66,1077.50 L820.85,1072.38 L821.05,1067.25 L821.29,1062.12 L821.55,1057.00 Z" fill="#262626"/>
<line x1="821.70" y1="1050.00" x2="821.70" y2="1059.00" stroke="#262626" stroke-width="1" stroke-dasharray="0.9,2.4" stroke-opacity="0.55"/>
<line x1="821.70" y1="1178.00" x2="821.70" y2="1196.00" stroke="#262626" stroke-width="1" stroke-dasharray="0.9,2.4" stroke-opacity="0.55"/>
<path d="M821.30,1205.00 L822.75,1206.50 L822.75,1212.80 L821.30,1214.30 L819.85,1212.80 L819.85,1206.50 Z" fill="#262626"/>
<path d="M1121.85,1059.00 L1122.11,1064.04 L1122.35,1069.08 L1122.55,1074.12 L1122.74,1079.17 L1122.89,1084.21 L1123.02,1089.25 L1123.13,1094.29 L1123.22,1099.33 L1123.28,1104.38 L1123.32,1109.42 L1123.34,1114.46 L1123.35,1119.50 L1123.34,1124.54 L1123.32,1129.58 L1123.28,1134.62 L1123.22,1139.67 L1123.13,1144.71 L1123.02,1149.75 L1122.89,1154.79 L1122.74,1159.83 L1122.55,1164.88 L1122.35,1169.92 L1122.11,1174.96 L1121.85,1180.00 L1121.55,1180.00 L1121.29,1174.96 L1121.05,1169.92 L1120.85,1164.88 L1120.66,1159.83 L1120.51,1154.79 L1120.38,1149.75 L1120.27,1144.71 L1120.18,1139.67 L1120.12,1134.62 L1120.08,1129.58 L1120.06,1124.54 L1120.05,1119.50 L1120.06,1114.46 L1120.08,1109.42 L1120.12,1104.38 L1120.18,1099.33 L1120.27,1094.29 L1120.38,1089.25 L1120.51,1084.21 L1120.66,1079.17 L1120.85,1074.12 L1121.05,1069.08 L1121.29,1064.04 L1121.55,1059.00 Z" fill="#262626"/>
<line x1="1121.70" y1="1052.00" x2="1121.70" y2="1061.00" stroke="#262626" stroke-width="1" stroke-dasharray="0.9,2.4" stroke-opacity="0.55"/>
<line x1="1121.70" y1="1178.00" x2="1121.70" y2="1196.00" stroke="#262626" stroke-width="1" stroke-dasharray="0.9,2.4" stroke-opacity="0.55"/>
<path d="M1121.30,1206.80 L1122.75,1208.30 L1122.75,1214.50 L1121.30,1216.00 L1119.85,1214.50 L1119.85,1208.30 Z" fill="#262626"/>
<path d="M1420.75,1140.00 L1420.97,1143.92 L1421.17,1147.83 L1421.35,1151.75 L1421.51,1155.67 L1421.66,1159.58 L1421.78,1163.50 L1421.90,1167.42 L1421.99,1171.33 L1422.07,1175.25 L1422.13,1179.17 L1422.18,1183.08 L1422.22,1187.00 L1422.24,1190.92 L1422.25,1194.83 L1422.25,1198.75 L1422.23,1202.67 L1422.17,1206.58 L1422.09,1210.50 L1421.96,1214.42 L1421.80,1218.33 L1421.60,1222.25 L1421.36,1226.17 L1421.08,1230.08 L1420.75,1234.00 L1420.45,1234.00 L1420.12,1230.08 L1419.84,1226.17 L1419.60,1222.25 L1419.40,1218.33 L1419.24,1214.42 L1419.11,1210.50 L1419.03,1206.58 L1418.97,1202.67 L1418.95,1198.75 L1418.95,1194.83 L1418.96,1190.92 L1418.98,1187.00 L1419.02,1183.08 L1419.07,1179.17 L1419.13,1175.25 L1419.21,1171.33 L1419.30,1167.42 L1419.42,1163.50 L1419.54,1159.58 L1419.69,1155.67 L1419.85,1151.75 L1420.03,1147.83 L1420.23,1143.92 L1420.45,1140.00 Z" fill="#262626"/>
<line x1="1420.60" y1="1130.00" x2="1420.60" y2="1142.00" stroke="#262626" stroke-width="1" stroke-dasharray="0.9,2.4" stroke-opacity="0.55"/>
<line x1="1420.60" y1="1232.00" x2="1420.60" y2="1245.00" stroke="#262626" stroke-width="1" stroke-dasharray="0.9,2.4" stroke-opacity="0.55"/>
<circle cx="222.50" cy="1219.50" r="0.75" fill="#262626" fill-opacity="0.85"/>
<circle cx="222.50" cy="1222.30" r="0.75" fill="#262626" fill-opacity="0.85"/>
<circle cx="222.50" cy="1226.30" r="0.75" fill="#262626" fill-opacity="0.85"/>
<rect x="73.50" y="765.50" width="1497.00" height="690.00" fill="none" stroke="#000" stroke-width="1"/>
<line x1="69.10" y1="1455.50" x2="73.50" y2="1455.50" stroke="#000" stroke-width="1"/>
<text transform="translate(63.60,1464.00) scale(0.930,1.055)" font-size="27.8" text-anchor="end">0.5</text>
<line x1="69.10" y1="1305.50" x2="73.50" y2="1305.50" stroke="#000" stroke-width="1"/>
<text transform="translate(64.20,1314.00) scale(0.983,1.055)" font-size="27.8" text-anchor="end">1.0</text>
<line x1="69.10" y1="1155.50" x2="73.50" y2="1155.50" stroke="#000" stroke-width="1"/>
<text transform="translate(62.65,1164.00) scale(0.930,1.055)" font-size="27.8" text-anchor="end">1.5</text>
<line x1="69.10" y1="1005.50" x2="73.50" y2="1005.50" stroke="#000" stroke-width="1"/>
<text transform="translate(65.10,1014.00) scale(0.983,1.055)" font-size="27.8" text-anchor="end">2.0</text>
<line x1="69.10" y1="855.50" x2="73.50" y2="855.50" stroke="#000" stroke-width="1"/>
<text transform="translate(63.60,864.90) scale(0.930,1.055)" font-size="27.8" text-anchor="end">2.5</text>
<line x1="222.50" y1="1455.50" x2="222.50" y2="1459.90" stroke="#000" stroke-width="1"/>
<line x1="522.50" y1="1455.50" x2="522.50" y2="1459.90" stroke="#000" stroke-width="1"/>
<line x1="821.50" y1="1455.50" x2="821.50" y2="1459.90" stroke="#000" stroke-width="1"/>
<line x1="1121.50" y1="1455.50" x2="1121.50" y2="1459.90" stroke="#000" stroke-width="1"/>
<line x1="1420.50" y1="1455.50" x2="1420.50" y2="1459.90" stroke="#000" stroke-width="1"/>
<rect x="1397.20" y="774.50" width="165.7" height="52.70" rx="2.8" ry="2.8" fill="#ffffff" fill-opacity="0.8" stroke="#cccccc" stroke-width="1.1"/>
<rect x="1404.50" y="781.55" width="31.9" height="9.90" fill="#df9c20" stroke="#d6920f" stroke-width="0.9"/>
<rect x="1404.50" y="805.65" width="31.9" height="10.80" fill="#107010" stroke="#036403" stroke-width="0.9"/>
<text transform="translate(1450.50,791.90) scale(0.99,1.06)" font-size="16.67">Bunch intensity</text>
<text transform="translate(1450.50,816.90) scale(0.99,1.06)" font-size="16.67">Bunch length</text>
<text transform="translate(109.70,1117.50) scale(1,1.02)" font-size="22.2">1.64<tspan font-style="italic">e</tspan><tspan>11</tspan><tspan font-style="italic" dx="0.6">ppb</tspan></text>
<text transform="translate(409.70,1118.20) scale(1,1.02)" font-size="22.2">1.64<tspan font-style="italic">e</tspan><tspan>11</tspan><tspan font-style="italic" dx="0.6">ppb</tspan></text>
<text transform="translate(708.70,1118.20) scale(1,1.02)" font-size="22.2">1.64<tspan font-style="italic">e</tspan><tspan>11</tspan><tspan font-style="italic" dx="0.6">ppb</tspan></text>
<text transform="translate(1008.70,1119.80) scale(1,1.02)" font-size="22.2">1.64<tspan font-style="italic">e</tspan><tspan>11</tspan><tspan font-style="italic" dx="0.6">ppb</tspan></text>
<text transform="translate(1307.70,1197.50) scale(1,1.02)" font-size="22.2">1.38<tspan font-style="italic">e</tspan><tspan>11</tspan><tspan font-style="italic" dx="0.6">ppb</tspan></text>
<text transform="translate(249.90,1258.00) scale(1,1.02)" font-size="22.2">1.17<tspan font-style="italic" dx="4.6">ns</tspan></text>
<text transform="translate(549.40,1218.80) scale(1,1.02)" font-size="22.2">1.30<tspan font-style="italic" dx="4.6">ns</tspan></text>
<text transform="translate(848.90,1213.80) scale(1,1.02)" font-size="22.2">1.32<tspan font-style="italic" dx="4.6">ns</tspan></text>
<text transform="translate(1148.90,1215.50) scale(1,1.02)" font-size="22.2">1.31<tspan font-style="italic" dx="4.6">ns</tspan></text>
<text transform="translate(1448.40,1217.80) scale(1,1.02)" font-size="22.2">1.31<tspan font-style="italic" dx="4.6">ns</tspan></text>
<text transform="translate(221.10,1500.40) rotate(-45) scale(1.0,1.05)" font-size="22.8" text-anchor="middle" y="7.4">INJPHYS</text>
<text transform="translate(519.30,1508.20) rotate(-45) scale(1.0,1.05)" font-size="22.8" text-anchor="middle" y="7.4">Start RAMP</text>
<text transform="translate(819.90,1505.10) rotate(-45) scale(1.0,1.05)" font-size="22.8" text-anchor="middle" y="7.4">End RAMP</text>
<text transform="translate(1119.10,1514.60) rotate(-45) scale(1.0,1.05)" font-size="22.8" text-anchor="middle" y="7.4">Start STABLE</text>
<text transform="translate(1418.50,1512.70) rotate(-45) scale(1.0,1.05)" font-size="22.8" text-anchor="middle" y="7.4">End STABLE</text>
</svg>
</body></html>
